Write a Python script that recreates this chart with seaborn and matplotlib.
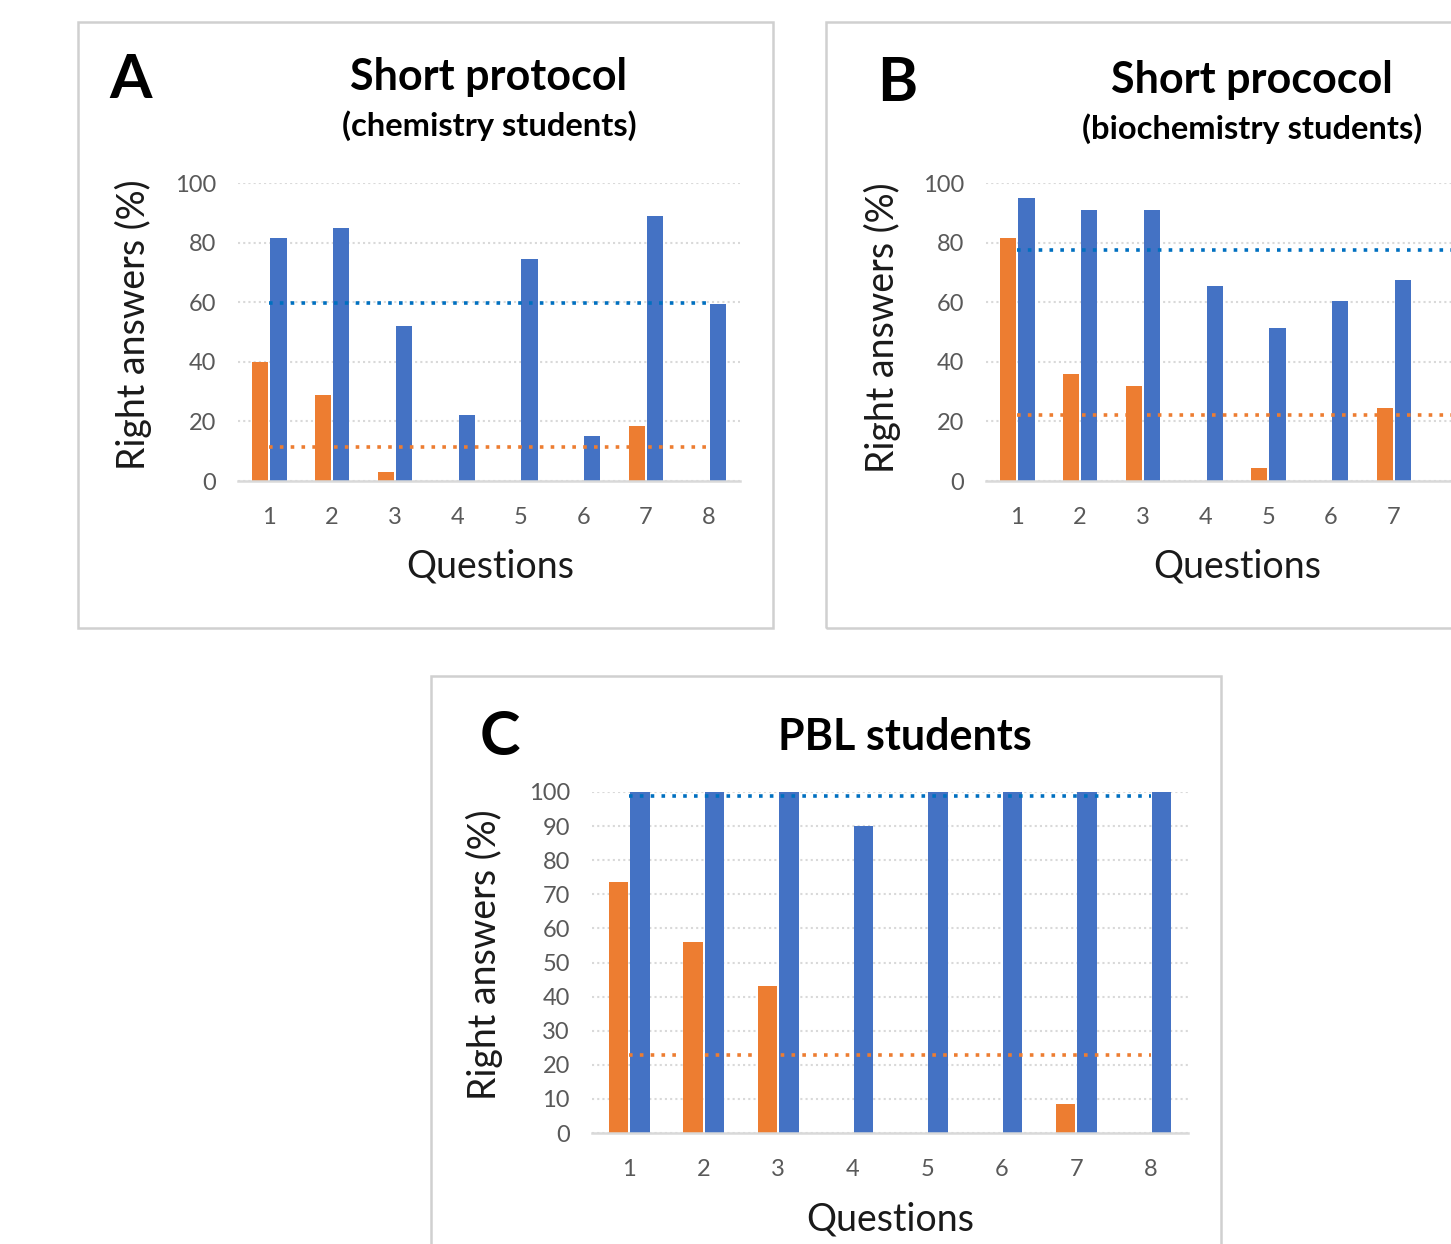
import pandas as pd
import matplotlib.pyplot as plt
import seaborn as sns
from matplotlib.patches import Rectangle

# Right answers (%) per question
questions = ["1", "2", "3", "4", "5", "6", "7", "8"]
a_before = [40, 29, 3, 0, 0, 0, 18.5, 0]
a_after = [81.5, 85, 52, 22, 74.5, 15, 89, 59.5]
b_before = [81.5, 36, 32, 0, 4.5, 0, 24.5, 0]
b_after = [95, 91, 91, 65.5, 51.5, 60.5, 67.5, 98]
c_before = [73.5, 56, 43, 0, 0, 0, 8.5, 0]
c_after = [100, 100, 100, 90, 100, 100, 100, 100]

# average lines drawn across each panel
a_means = [11.3, 59.8]
b_means = [22.1, 77.5]
c_means = [22.8, 98.8]

ORANGE = "#ED7D31"
BLUE = "#4472C4"
MEAN_BLUE = "#0070C0"
GRID = "#D9D9D9"
TICK = "#595959"

sns.set_theme(style="white")
plt.rcParams["font.family"] = ["Lato", "DejaVu Sans"]

W, H = 1451, 1244
fig = plt.figure(figsize=(W / 100, H / 100), dpi=100)


def px_box(x0, y0, x1, y1):
    return [x0 / W, 1 - y1 / H, (x1 - x0) / W, (y1 - y0) / H]


def panel(ax, before, after, means, yticks):
    df = pd.DataFrame({
        "Question": questions * 2,
        "Right answers": before + after,
        "Group": ["Before"] * 8 + ["After"] * 8,
    })
    sns.barplot(data=df, x="Question", y="Right answers", hue="Group",
                palette=[ORANGE, BLUE], saturation=1, width=0.58, gap=0.1,
                linewidth=0, legend=False, ax=ax, zorder=3)
    ax.hlines(means[0], 0, 7, colors=ORANGE, linestyles=(0, (1, 2)),
              linewidth=2.6, zorder=4)
    ax.hlines(means[1], 0, 7, colors=MEAN_BLUE, linestyles=(0, (1, 2)),
              linewidth=2.6, zorder=4)
    ax.set_xlim(-0.5, 7.5)
    ax.set_ylim(0, 100)
    ax.set_yticks(yticks)
    ax.yaxis.grid(True, color=GRID, linestyle=(0, (1, 1.5)), linewidth=1.5)
    ax.set_axisbelow(True)
    for s in ["top", "right", "left"]:
        ax.spines[s].set_visible(False)
    ax.spines["bottom"].set_color(GRID)
    ax.spines["bottom"].set_linewidth(1.8)
    ax.spines["bottom"].set_zorder(5)
    ax.tick_params(axis="both", length=0, labelsize=17, labelcolor=TICK)
    ax.tick_params(axis="x", pad=19)
    ax.tick_params(axis="y", pad=16)
    ax.set_xlabel("")
    ax.set_ylabel("")


# panel frames
for x0, y0, x1, y1 in [(78, 22, 773, 628), (826, 22, 1520, 628), (431, 676, 1221, 1300)]:
    fig.patches.append(Rectangle((x0 / W, 1 - y1 / H), (x1 - x0) / W, (y1 - y0) / H,
                                 transform=fig.transFigure, fill=False,
                                 edgecolor="#D0D0D0", linewidth=1.8))

ax_a = fig.add_axes(px_box(238, 183, 740, 481))
panel(ax_a, a_before, a_after, a_means, range(0, 101, 20))
ax_b = fig.add_axes(px_box(986, 183, 1488, 481))
panel(ax_b, b_before, b_after, b_means, range(0, 101, 20))
ax_c = fig.add_axes(px_box(592, 792, 1188, 1133))
panel(ax_c, c_before, c_after, c_means, range(0, 101, 10))


def txt(x, y, s, size, weight="normal", rot=0, color="black"):
    fig.text(x / W, 1 - y / H, s, fontsize=size, fontweight=weight, rotation=rot,
             ha="center", va="center", color=color)


txt(131, 80, "A", 44, "bold")
txt(489, 77, "Short protocol", 31, "bold")
txt(489, 126, "(chemistry students)", 23.5, "bold")
txt(133, 325, "Right answers (%)", 27, rot=90, color="#1a1a1a")
txt(490, 567, "Questions", 27, color="#1a1a1a")

txt(897, 83, "B", 44, "bold")
txt(1252, 80, "Short prococol", 31, "bold")
txt(1252, 129, "(biochemistry students)", 23.5, "bold")
txt(882, 328, "Right answers (%)", 27, rot=90, color="#1a1a1a")
txt(1237, 567, "Questions", 27, color="#1a1a1a")

txt(500, 737, "C", 44, "bold")
txt(905, 737, "PBL students", 31, "bold")
txt(484, 955, "Right answers (%)", 27, rot=90, color="#1a1a1a")
txt(890, 1220, "Questions", 27, color="#1a1a1a")

fig.savefig("out.png", dpi=100, facecolor="white")
